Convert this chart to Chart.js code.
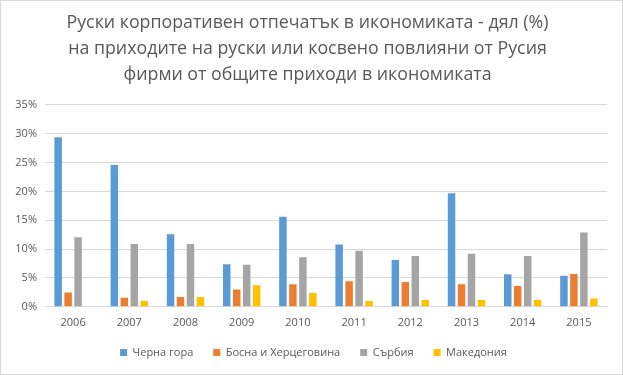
<!DOCTYPE html>
<html><head><meta charset="utf-8">
<script src="https://cdn.jsdelivr.net/npm/chart.js@4"></script>
<style>html,body{margin:0;padding:0;background:#fff}#wrap{width:623px;height:375px;position:relative}</style>
</head><body><div id="wrap"><canvas id="c" width="623" height="375"></canvas></div>
<script>
const categories = ['2006','2007','2008','2009','2010','2011','2012','2013','2014','2015'];
const seriesNames = ['Черна гора','Босна и Херцеговина','Сърбия','Македония'];
const montenegro = [29.4,24.6,12.6,7.4,15.6,10.8,8.1,19.7,5.65,5.4];
const bosnia = [2.5,1.55,1.7,3.0,3.9,4.45,4.3,3.9,3.6,5.7];
const serbia = [12.05,10.9,10.9,7.3,8.6,9.7,8.8,9.2,8.8,12.9];
const macedonia = [0,1.0,1.7,3.75,2.4,1.0,1.2,1.2,1.2,1.45];
const yTicks = [0,5,10,15,20,25,30,35];
const titleLines = ['Руски корпоративен отпечатък в икономиката - дял (%)','на приходите на руски или косвено повлияни от Русия','фирми от общите приходи в икономиката'];
const colors = ['#5B9BD5','#ED7D31','#A5A5A5','#FFC000'];
const txt = '#595959';
const FONT = "'Open Sans', sans-serif";

const borderPlugin = {id:'border', afterDraw(ch){const c=ch.ctx;c.save();c.strokeStyle='#d9d9d9';c.lineWidth=1;c.strokeRect(0.5,0.5,ch.width-1,ch.height-1);c.restore();}};
const legendShift = {id:'legendShift', afterLayout(ch){if(ch.legend){ch.legend.left+=6;ch.legend.right+=6;}}};

new Chart(document.getElementById('c'), {
  type:'bar',
  data:{labels:categories, datasets:[montenegro,bosnia,serbia,macedonia].map((d,i)=>({label:seriesNames[i],data:d,backgroundColor:colors[i],categoryPercentage:0.71,barPercentage:0.75}))},
  options:{
    responsive:false, animation:false, devicePixelRatio:1,
    layout:{padding:{left:8,right:16,top:6,bottom:7}},
    plugins:{
      title:{display:true,text:titleLines,color:txt,font:{family:FONT,size:17.8,weight:'normal',lineHeight:1.46},padding:{top:4,bottom:17}},
      legend:{position:'bottom',labels:{color:txt,font:{family:FONT,size:11},boxWidth:7,boxHeight:7,padding:20},},
      tooltip:{enabled:false}
    },
    scales:{
      x:{grid:{display:false},border:{color:'#d9d9d9'},afterFit(s){s.height-=3;},ticks:{color:txt,font:{family:FONT,size:11},padding:1}},
      y:{min:0,max:35,afterBuildTicks(s){s.ticks=yTicks.map(v=>({value:v}));},afterFit(s){s.width=37;},
         grid:{color:'#d9d9d9',drawTicks:false},border:{display:false},
         ticks:{color:txt,font:{family:FONT,size:11},padding:8,callback:v=>v+'%'}}
    }
  },
  plugins:[borderPlugin, legendShift]
});
</script></body></html>
